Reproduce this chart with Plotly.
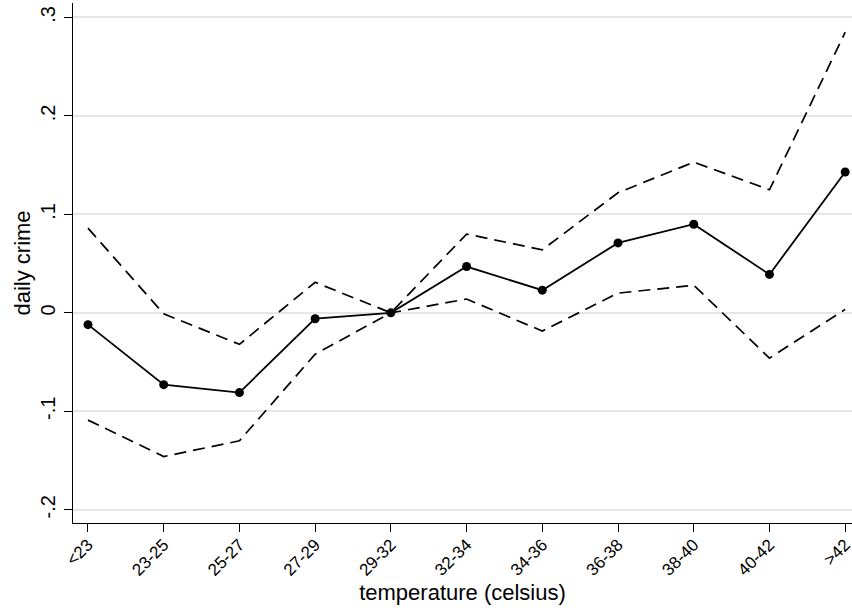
import plotly.graph_objects as go

categories = ["<23", "23-25", "25-27", "27-29", "29-32", "32-34", "34-36", "36-38", "38-40", "40-42", ">42"]
estimate = [-0.012, -0.073, -0.081, -0.006, 0.0, 0.047, 0.023, 0.071, 0.090, 0.039, 0.143]
upper = [0.086, -0.001, -0.032, 0.031, 0.0, 0.080, 0.064, 0.122, 0.153, 0.125, 0.285]
lower = [-0.109, -0.146, -0.130, -0.042, 0.0, 0.014, -0.0185, 0.020, 0.028, -0.046, 0.0035]
ytick_vals = [-0.2, -0.1, 0.0, 0.1, 0.2, 0.3]
ytick_text = ["-.2", "-.1", "0", ".1", ".2", ".3"]

x = list(range(len(categories)))
FONT = "Liberation Sans, Arial, Helvetica, sans-serif"

fig = go.Figure()
fig.add_trace(go.Scatter(x=x, y=upper, mode="lines",
                         line=dict(color="black", width=1.7, dash="12px,7px"),
                         showlegend=False, hoverinfo="skip", cliponaxis=False))
fig.add_trace(go.Scatter(x=x, y=lower, mode="lines",
                         line=dict(color="black", width=1.7, dash="12px,7px"),
                         showlegend=False, hoverinfo="skip", cliponaxis=False))
fig.add_trace(go.Scatter(x=x, y=estimate, mode="lines+markers",
                         line=dict(color="black", width=1.8),
                         marker=dict(color="black", size=9),
                         showlegend=False, cliponaxis=False))

fig.update_layout(
    width=852, height=612,
    margin=dict(l=73, r=0, t=3, b=89, autoexpand=False),
    paper_bgcolor="white", plot_bgcolor="white",
    font=dict(family=FONT, color="black"),
    xaxis=dict(
        range=[-0.198, 10.09], automargin=False,
        tickmode="array", tickvals=x, ticktext=categories,
        tickangle=-45, tickfont=dict(size=17), ticklabelstandoff=-4,
        ticklabeloverflow="allow",
        ticks="outside", ticklen=8, tickwidth=1.2, tickcolor="black",
        showline=True, linecolor="black", linewidth=1.3,
        showgrid=False, zeroline=False,
        title=dict(text="temperature (celsius)", font=dict(size=22), standoff=2),
    ),
    yaxis=dict(
        range=[-0.2135, 0.3147], automargin=False,
        tickmode="array", tickvals=ytick_vals, ticktext=ytick_text,
        tickangle=-90, tickfont=dict(size=20), ticklabelstandoff=1,
        ticklabeloverflow="allow",
        ticks="outside", ticklen=8, tickwidth=1.2, tickcolor="black",
        showline=True, linecolor="black", linewidth=1.3,
        showgrid=True, gridcolor="#e6e6e6", gridwidth=1.5,
        zeroline=False,
        title=dict(text="daily crime", font=dict(size=22), standoff=0),
    ),
)

fig.write_html("out.html", config={"displayModeBar": False},
               post_script="document.body.style.margin='0';")
